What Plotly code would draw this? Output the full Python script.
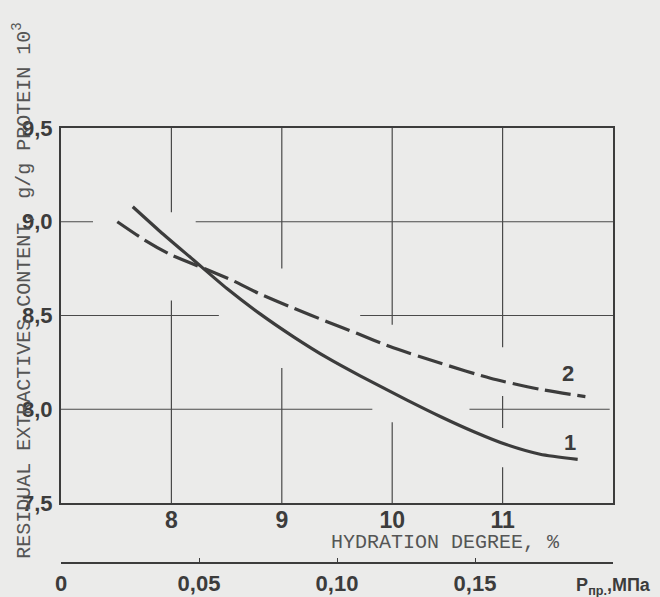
import plotly.graph_objects as go

# ---- data ----
hydration_ticks = [8, 9, 10, 11]
y_ticks = [7.5, 8.0, 8.5, 9.0, 9.5]
y_ticktext = ["7,5", "8,0", "8,5", "9,0", "9,5"]
p_ticks = [0, 0.05, 0.10, 0.15, 0.20]
p_ticktext = ["0", "0,05", "0,10", "0,15",
              "<span style='font-size:18px'>P<sub>пр.</sub>,МПа</span>"]

curve1_x = [7.65, 7.90, 8.20, 8.50, 8.80, 9.11, 9.41, 9.71, 10.13, 10.44, 10.74, 11.04, 11.34, 11.68]
curve1_y = [9.08, 8.947, 8.796, 8.645, 8.51, 8.385, 8.275, 8.178, 8.05, 7.96, 7.88, 7.81, 7.76, 7.733]

curve2_x = [7.51, 7.75, 7.99, 8.32, 8.56, 8.80, 9.11, 9.41, 9.68, 9.98, 10.44, 10.89, 11.34, 11.75]
curve2_y = [9.00, 8.905, 8.825, 8.745, 8.685, 8.615, 8.538, 8.467, 8.405, 8.334, 8.245, 8.165, 8.106, 8.067]

# hand-drawn grid: segments (with gaps) in data units
h_grid = {9.0: [(7.0, 7.29), (8.22, 12.0)],
          8.5: [(7.0, 8.43), (9.71, 12.0)],
          8.0: [(7.0, 9.82), (10.70, 11.97)]}
v_grid = {8: [(9.05, 9.5), (7.5, 8.58)],
          9: [(8.75, 9.5), (7.5, 8.22)],
          10: [(8.45, 9.5), (7.5, 7.93)],
          11: [(8.33, 9.5), (7.90, 8.07), (7.5, 7.69)]}

INK = "#3c3c3c"
GRID = "#4a4a4a"
BG = "#ebebea"
NARROW = "Liberation Sans Narrow, Liberation Sans, Arial, sans-serif"
MONO = "Liberation Mono, Courier New, DejaVu Sans Mono, monospace"

fig = go.Figure()
fig.add_trace(go.Scatter(x=curve1_x, y=curve1_y, mode="lines",
                         line=dict(color=INK, width=3.2, shape="spline", smoothing=0.6),
                         hoverinfo="skip", showlegend=False))
fig.add_trace(go.Scatter(x=curve2_x, y=curve2_y, mode="lines",
                         line=dict(color=INK, width=3.2, shape="spline", smoothing=0.6,
                                   dash="26px,7px"),
                         hoverinfo="skip", showlegend=False))
# invisible trace to bind the pressure axis
fig.add_trace(go.Scatter(x=p_ticks, y=[y_ticks[0]] * len(p_ticks), xaxis="x2", yaxis="y",
                         mode="lines", opacity=0, hoverinfo="skip", showlegend=False))

shapes = []
for yv, segs in h_grid.items():
    for a, b in segs:
        shapes.append(dict(type="line", xref="x", yref="y", x0=a, x1=b, y0=yv, y1=yv,
                           line=dict(color=GRID, width=1.2), layer="below"))
for xv, segs in v_grid.items():
    for a, b in segs:
        shapes.append(dict(type="line", xref="x", yref="y", x0=xv, x1=xv, y0=a, y1=b,
                           line=dict(color=GRID, width=1.2), layer="below"))

annotations = [
    dict(text="RESIDUAL EXTRACTIVES CONTENT, g/g PROTEIN 10<sup>3</sup>",
         xref="paper", yref="paper", x=-0.0707, y=0.628, textangle=-90,
         xanchor="center", yanchor="middle", showarrow=False,
         font=dict(family=MONO, size=20, color="#555555")),
    dict(text="HYDRATION DEGREE, %", xref="paper", yref="paper", x=0.697, y=0.046,
         xanchor="center", yanchor="middle", showarrow=False,
         font=dict(family=MONO, size=20, color="#555555")),
    dict(text="2", xref="x", yref="y", x=11.59, y=8.19, showarrow=False,
         font=dict(family=NARROW, size=22, color=INK, weight="bold")),
    dict(text="1", xref="x", yref="y", x=11.61, y=7.82, showarrow=False,
         font=dict(family=NARROW, size=22, color=INK, weight="bold")),
]

fig.update_layout(
    width=660, height=597,
    margin=dict(l=61, r=47, t=128, b=34, pad=0, autoexpand=False),
    paper_bgcolor=BG, plot_bgcolor=BG,
    shapes=shapes, annotations=annotations,
    xaxis=dict(range=[7, 12], tickvals=hydration_ticks,
               ticktext=[str(v) for v in hydration_ticks], automargin=False,
               showgrid=False, zeroline=False, showline=True, mirror=True,
               linecolor=INK, linewidth=2, ticks="", anchor="y", domain=[0, 1],
               tickfont=dict(family=NARROW, size=23, color=INK, weight="bold"),
               ticklabelstandoff=-5),
    yaxis=dict(range=[7.5, 9.5], tickvals=y_ticks, ticktext=y_ticktext,
               domain=[0.138, 1], showgrid=False, zeroline=False, showline=True,
               mirror=True, linecolor=INK, linewidth=2, ticks="", automargin=False,
               tickfont=dict(family=NARROW, size=22, color=INK, weight="bold"),
               ticklabelstandoff=2),
    xaxis2=dict(range=[0, 0.2], tickvals=p_ticks, ticktext=p_ticktext,
                overlaying="x", anchor="free", position=0, side="bottom",
                automargin=False,
                showgrid=False, zeroline=False, showline=True, linecolor=INK,
                linewidth=2, ticks="inside", ticklen=4, tickcolor=INK,
                tickfont=dict(family=NARROW, size=22, color=INK, weight="bold"),
                ticklabelstandoff=1),
)

fig.write_html(
    "out.html",
    config={"displayModeBar": False},
    post_script="document.body.style.margin='0';document.body.style.background='%s';"
                "document.documentElement.style.overflow='hidden';" % BG,
)
